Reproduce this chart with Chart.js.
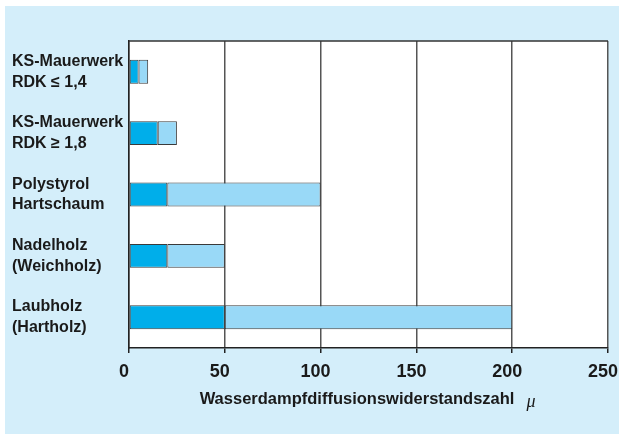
<!DOCTYPE html>
<html>
<head>
<meta charset="utf-8">
<script src="https://cdn.jsdelivr.net/npm/chart.js@4.4.1/dist/chart.umd.min.js"></script>
<style>
  body { margin: 0; background: #fff; }
  canvas { display: block; }
</style>
</head>
<body>
<canvas id="chart-mu" width="624" height="440"></canvas>
<script>
var materials = [
    ["KS-Mauerwerk", "RDK \u2264 1,4"],
    ["KS-Mauerwerk", "RDK \u2265 1,8"],
    ["Polystyrol", "Hartschaum"],
    ["Nadelholz", "(Weichholz)"],
    ["Laubholz", "(Hartholz)"]
];
var muLow = [5, 15, 20, 20, 50];
var muHigh = [10, 25, 100, 50, 200];
var axisTitle = 'Wasserdampfdiffusionswiderstandszahl';
var axisSymbol = '\u03bc';
var titleGap = '     '; // trailing room for the mu symbol, shifts title left

var labelFont = "'Liberation Sans', Arial, sans-serif";
var titleFont = { family: labelFont, size: 16.5, weight: 'bold' };

// light blue frame + white plot area + top border line + italic mu
var framePlugin = {
    id: 'frame',
    beforeDraw: function(chart) {
        var c = chart.ctx, a = chart.chartArea;
        c.save();
        c.fillStyle = '#ffffff';
        c.fillRect(0, 0, chart.width, chart.height);
        c.fillStyle = '#d4eefa';
        c.fillRect(5, 6, 614, 428);
        c.fillStyle = '#ffffff';
        c.fillRect(a.left, a.top, a.right - a.left, a.bottom - a.top);
        c.restore();
    },
    afterDatasetsDraw: function(chart) {
        var c = chart.ctx, a = chart.chartArea;
        c.save();
        c.strokeStyle = '#333333';
        c.lineWidth = 1.5;
        c.beginPath();
        c.moveTo(a.left, a.top);
        c.lineTo(a.right, a.top);
        c.stroke();
        c.restore();
    },
    afterDraw: function(chart) {
        var c = chart.ctx, a = chart.chartArea, xs = chart.scales.x;
        c.save();
        c.font = 'bold ' + titleFont.size + 'px ' + titleFont.family;
        var full = c.measureText(axisTitle + titleGap).width;
        var w = c.measureText(axisTitle).width;
        var left = (a.left + a.right) / 2 - full / 2;
        var cy = xs.bottom - 31 - titleFont.size * 1.2 / 2;
        c.font = 'italic 18px "Liberation Serif", serif';
        c.fillStyle = '#1a1a1a';
        c.textAlign = 'left';
        c.textBaseline = 'middle';
        c.fillText(axisSymbol, left + w + 12, cy + 3);
        c.restore();
    }
};

var ctx = document.getElementById('chart-mu');
var muChart = new Chart(ctx, {
    type: 'bar',
    data: {
        labels: materials,
        datasets: [
            {
                label: 'min',
                data: muLow.map(function(v) { return [0, v]; }),
                backgroundColor: '#00aeea',
                borderColor: '#3a3a3a',
                borderWidth: 1,
                borderSkipped: false,
                grouped: false,
                categoryPercentage: 1,
                barPercentage: 0.39
            },
            {
                label: 'max',
                data: muLow.map(function(v, i) { return [v, muHigh[i]]; }),
                backgroundColor: '#99d9f7',
                borderColor: '#3a3a3a',
                borderWidth: 1,
                borderSkipped: false,
                grouped: false,
                categoryPercentage: 1,
                barPercentage: 0.39
            }
        ]
    },
    options: {
        indexAxis: 'y',
        responsive: false,
        animation: false,
        layout: { padding: { top: 41, right: 16, bottom: 0, left: 12 } },
        plugins: {
            legend: { display: false },
            tooltip: { enabled: false }
        },
        scales: {
            x: {
                min: 0,
                max: 250,
                afterFit: function(scale) {
                    scale.height = 92;
                    scale.paddingLeft = 0;
                    scale.paddingRight = 0;
                },
                ticks: {
                    stepSize: 50,
                    padding: 8,
                    labelOffset: -5,
                    color: '#1a1a1a',
                    font: { family: labelFont, size: 18, weight: 'bold' }
                },
                grid: {
                    color: '#555555',
                    lineWidth: 1.5,
                    tickLength: 5,
                    tickColor: '#222222'
                },
                border: { color: '#222222', width: 1.5 },
                title: {
                    display: true,
                    text: axisTitle + titleGap,
                    color: '#1a1a1a',
                    font: titleFont,
                    padding: { top: 0, bottom: 31 }
                }
            },
            y: {
                afterFit: function(scale) { scale.width = 117; },
                grid: { display: false, drawTicks: false },
                border: { display: true, color: '#222222', width: 1.5 },
                ticks: {
                    crossAlign: 'far',
                    color: '#1a1a1a',
                    font: { family: labelFont, size: 16, weight: 'bold', lineHeight: 1.3 }
                }
            }
        }
    },
    plugins: [framePlugin]
});
</script>
</body>
</html>
